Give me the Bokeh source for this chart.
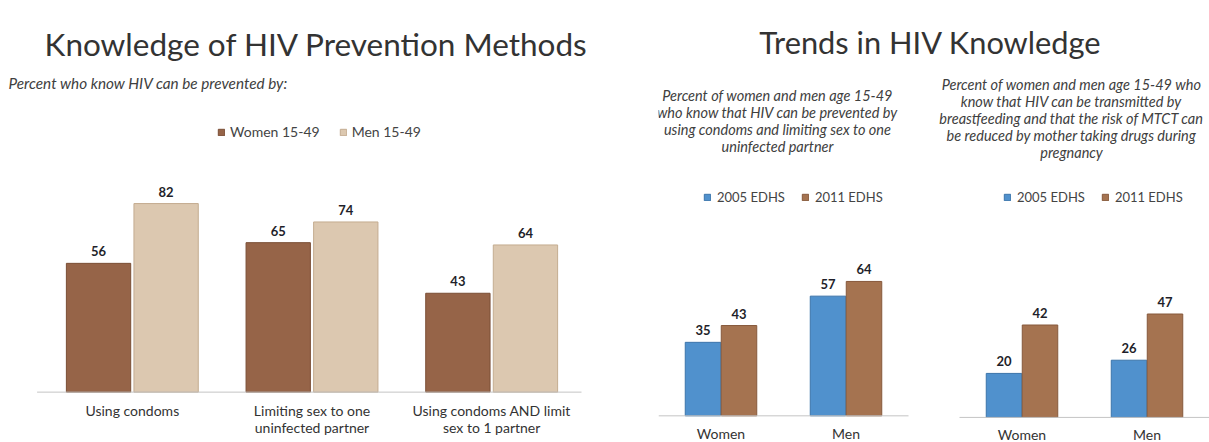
from bokeh.plotting import figure
from bokeh.models import ColumnDataSource, FactorRange, Range1d, Label, Legend, LegendItem
from bokeh.transform import dodge
from bokeh.layouts import row
from bokeh.embed import file_html
from bokeh.resources import INLINE
from bokeh.core.properties import value

# ---------------- data ----------------
prevention_methods = [
    "Using condoms",
    "Limiting sex to one\nuninfected partner",
    "Using condoms AND limit\nsex to 1 partner",
]
women_15_49 = [56, 65, 43]
men_15_49 = [82, 74, 64]

sexes = ["Women", "Men"]
condom_limit_2005 = [35, 57]
condom_limit_2011 = [43, 64]
mtct_2005 = [20, 26]
mtct_2011 = [42, 47]

left_title = "Knowledge of HIV Prevention Methods"
left_subtitle = "Percent who know HIV can be prevented by:"
right_title = "Trends in HIV Knowledge"
mid_subtitle = [
    "Percent of women and men age 15-49",
    "who know that HIV can be prevented by",
    "using condoms and limiting sex to one",
    "uninfected partner",
]
right_subtitle = [
    "Percent of women and men age 15-49 who",
    "know that HIV can be transmitted by",
    "breastfeeding and that the risk of MTCT can",
    "be reduced by mother taking drugs during",
    "pregnancy",
]
series_left = ["Women 15-49", "Men 15-49"]
series_right = ["2005 EDHS", "2011 EDHS"]

# ---------------- style ----------------
H = 442
FONT = "Lato"
WOMEN_C, WOMEN_L = "#966448", "#7a4e35"
MEN_C, MEN_L = "#dcc8b0", "#c4ac90"
BLUE_C, BLUE_L = "#5091cd", "#3b74aa"
BROWN_C, BROWN_L = "#a57350", "#86583b"
VAL_C = "#1f1f2a"
TXT_C = "#333333"
SUB_C = "#404040"
SUB_SIZE = "14.5px"


def new_fig(width, x_range, y_range, left, right, **kw):
    p = figure(width=width, height=H, x_range=x_range, y_range=y_range,
               output_backend="svg", toolbar_location=None,
               x_axis_location=None, y_axis_location=None,
               min_border_left=left, min_border_right=right,
               min_border_top=0, min_border_bottom=0, **kw)
    p.grid.visible = False
    p.outline_line_color = None
    p.background_fill_color = "white"
    p.border_fill_color = "white"
    return p


def add_label(p, frame_left, X, Y, text, size, style="normal", align="center",
              baseline="middle", color=TXT_C):
    p.add_layout(Label(x=X - frame_left, y=H - Y, x_units="screen", y_units="screen",
                       text=text, text_font=FONT, text_font_size=size,
                       text_font_style=style, text_align=align,
                       text_baseline=baseline, text_color=color))


def style_legend(leg, x, y, spacing, size, standoff):
    leg.orientation = "horizontal"
    leg.location = (x, y)
    leg.border_line_color = None
    leg.background_fill_alpha = 0
    leg.padding = 0
    leg.margin = 0
    leg.spacing = spacing
    leg.glyph_width = 8
    leg.glyph_height = 8
    leg.label_standoff = standoff
    leg.label_height = 16
    leg.label_text_font = FONT
    leg.label_text_font_size = size
    leg.label_text_color = "#444444"


# ---------------- left panel ----------------
WL = 623
LF = 0  # frame starts at canvas left
pL = new_fig(WL, FactorRange(*prevention_methods, range_padding=0.2337,
                             range_padding_units="absolute"),
             Range1d(-21.9, 170.3), 0, 0)
srcL = ColumnDataSource(dict(
    cat=prevention_methods, women=women_15_49, men=men_15_49,
    women_lbl=[str(v) for v in women_15_49], men_lbl=[str(v) for v in men_15_49],
))
OFF_L, W_L = 0.188, 0.358
rW = pL.vbar(x=dodge("cat", -OFF_L, range=pL.x_range), top="women", width=W_L,
             source=srcL, fill_color=WOMEN_C, line_color=WOMEN_L)
rM = pL.vbar(x=dodge("cat", OFF_L, range=pL.x_range), top="men", width=W_L,
             source=srcL, fill_color=MEN_C, line_color=MEN_L)
for off, fld in ((-OFF_L, "women"), (OFF_L, "men")):
    pL.text(x=dodge("cat", off, range=pL.x_range), y=fld, text=fld + "_lbl",
            source=srcL, text_align="center", text_baseline="middle", y_offset=-12,
            text_font=value(FONT), text_font_style="bold", text_font_size="13px",
            text_color=VAL_C)
pL.text(x="cat", y=0, text="cat", source=srcL, text_align="center",
        text_baseline="top", y_offset=10, text_font=value(FONT),
        text_font_size="14px", text_line_height=0.98, text_color=TXT_C)
baseL = ColumnDataSource(dict(first=[prevention_methods[0]], last=[prevention_methods[-1]]))
pL.segment(x0=dodge("first", -0.53, range=pL.x_range), y0=0,
           x1=dodge("last", 0.5, range=pL.x_range), y1=0, source=baseL,
           line_color="#c4c4c4", line_width=1)

legL = Legend(items=[LegendItem(label=series_left[0], renderers=[rW]),
                     LegendItem(label=series_left[1], renderers=[rM])])
style_legend(legL, 217 - LF, H - 140, 19, "14px", 5)
pL.add_layout(legL)

add_label(pL, LF, 316, 43, left_title, "31.5px", baseline="alphabetic", color="#333333")
add_label(pL, LF, 8, 82, left_subtitle, "15.3px", style="italic", align="left", color=SUB_C)

# ---------------- right panel (two charts) ----------------
WR = 1209 - WL
RB = 35
RF = WL + RB  # canvas x of the right frame's left edge
groups = ["condom", "mtct"]
factorsR = [(g, s) for g in groups for s in sexes]
pR = new_fig(WR, FactorRange(*factorsR, group_padding=0.408, range_padding=0),
             Range1d(-12.7, 197.8), RB, 0,
             extra_y_ranges={"mtct": Range1d(-11.4, 189.5)})

OFF_R, W_R = 0.144, 0.284
panels = [
    ("condom", condom_limit_2005, condom_limit_2011, "default", 777,
     [95, 112, 129, 146], mid_subtitle, 703),
    ("mtct", mtct_2005, mtct_2011, "mtct", 1071,
     [84, 101, 118, 135, 152], right_subtitle, 1003),
]
for g, v05, v11, yr, cx, ys, sub, legx in panels:
    src = ColumnDataSource(dict(
        cat=[(g, s) for s in sexes], sex=sexes, v05=v05, v11=v11,
        l05=[str(v) for v in v05], l11=[str(v) for v in v11],
    ))
    r05 = pR.vbar(x=dodge("cat", -OFF_R, range=pR.x_range), top="v05", width=W_R,
                  source=src, fill_color=BLUE_C, line_color=BLUE_L, y_range_name=yr)
    r11 = pR.vbar(x=dodge("cat", OFF_R, range=pR.x_range), top="v11", width=W_R,
                  source=src, fill_color=BROWN_C, line_color=BROWN_L, y_range_name=yr)
    for off, fld in ((-OFF_R, "v05"), (OFF_R, "v11")):
        pR.text(x=dodge("cat", off, range=pR.x_range), y=fld,
                text="l" + fld[1:], source=src, y_range_name=yr,
                text_align="center", text_baseline="middle", y_offset=-12,
                text_font=value(FONT), text_font_style="bold",
                text_font_size="13px", text_color=VAL_C)
    pR.text(x="cat", y=0, text="sex", source=src, y_range_name=yr,
            text_align="center", text_baseline="top", y_offset=9,
            text_font=value(FONT), text_font_size="14px", text_color=TXT_C)
    bsrc = ColumnDataSource(dict(first=[(g, sexes[0])], last=[(g, sexes[-1])]))
    pR.segment(x0=dodge("first", -0.5, range=pR.x_range), y0=0,
               x1=dodge("last", 0.5, range=pR.x_range), y1=0, source=bsrc,
               y_range_name=yr, line_color="#c4c4c4", line_width=1)
    leg = Legend(items=[LegendItem(label=series_right[0], renderers=[r05]),
                        LegendItem(label=series_right[1], renderers=[r11])])
    style_legend(leg, legx - RF, H - 205, 16, "13px", 6)
    pR.add_layout(leg)
    for yy, line in zip(ys, sub):
        add_label(pR, RF, cx, yy, line, SUB_SIZE, style="italic", color=SUB_C)

add_label(pR, RF, 930, 42, right_title, "30.8px", baseline="alphabetic", color="#333333")

layout = row(pL, pR)
open("out.html", "w").write(file_html(layout, INLINE))
